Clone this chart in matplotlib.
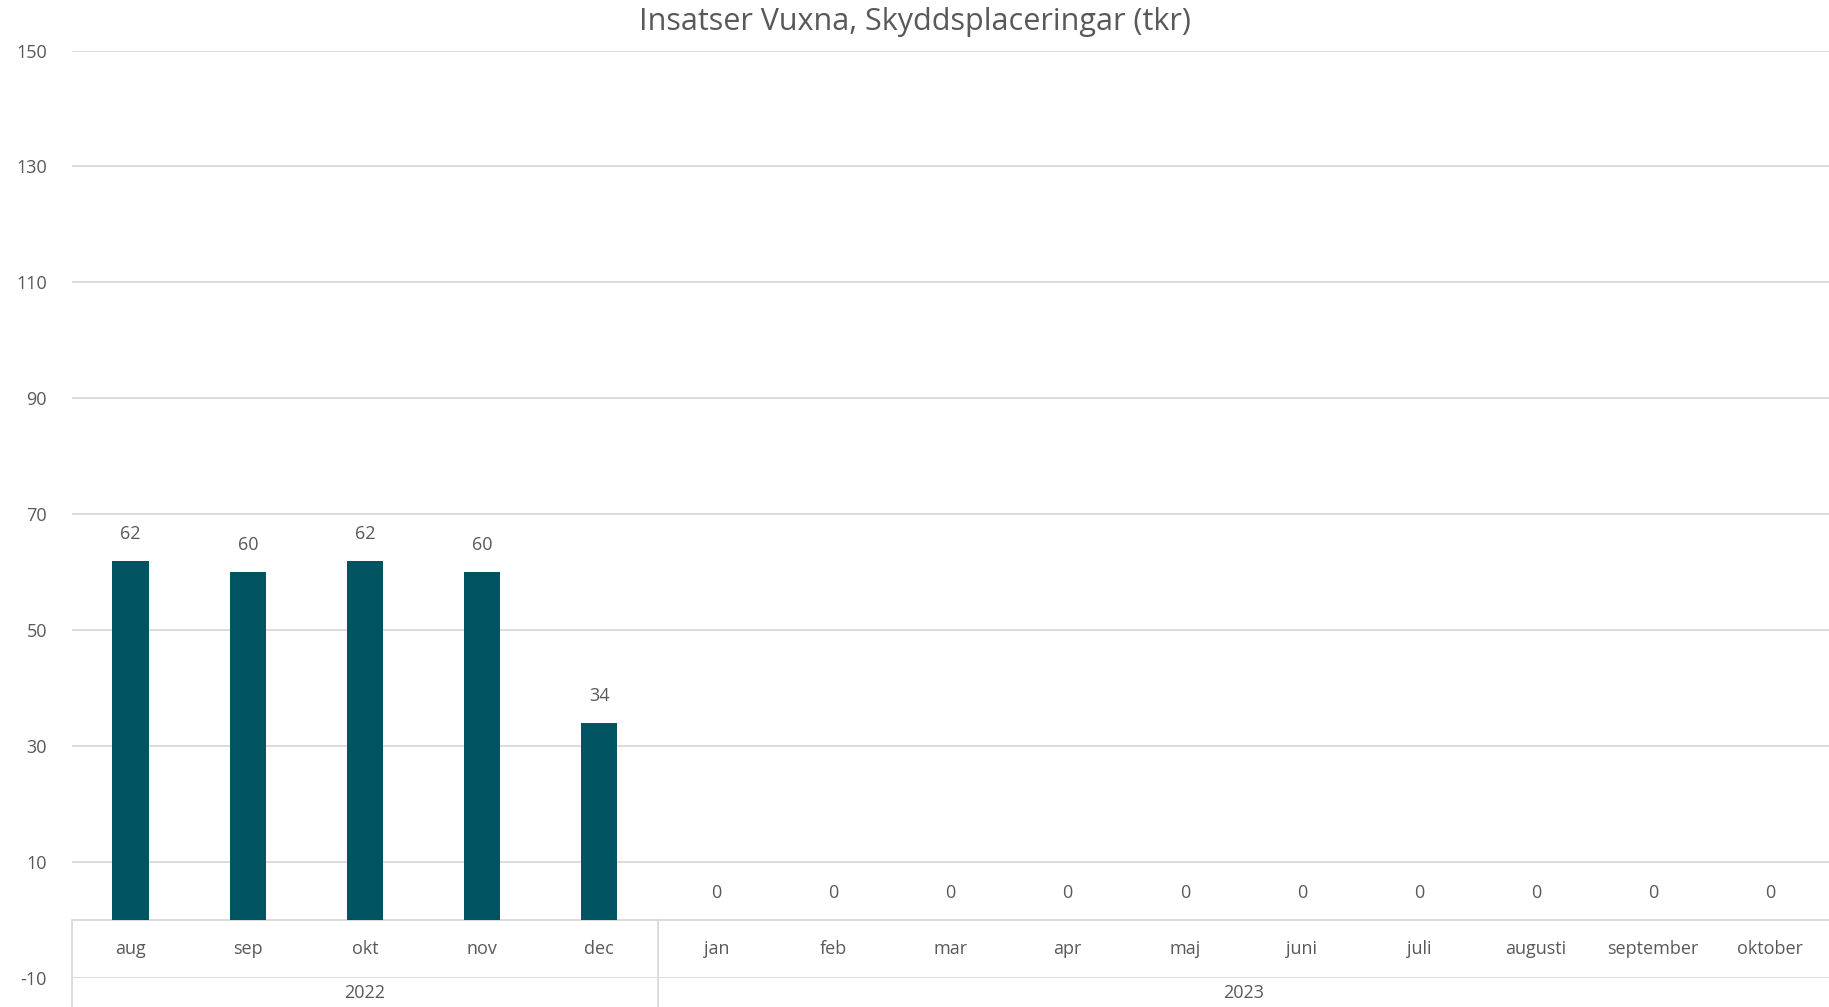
import matplotlib.pyplot as plt

months = ["aug", "sep", "okt", "nov", "dec",
          "jan", "feb", "mar", "apr", "maj", "juni", "juli",
          "augusti", "september", "oktober"]
values = [62, 60, 62, 60, 34, 0, 0, 0, 0, 0, 0, 0, 0, 0, 0]
years = ["2022", "2023"]
year_counts = [5, 10]
yticks = [-10, 10, 30, 50, 70, 90, 110, 130, 150]

bar_color = "#005462"
text_color = "#595959"
grid_color = "#d9d9d9"

plt.rcParams["font.family"] = ["Open Sans", "DejaVu Sans"]

fig = plt.figure(figsize=(18.29, 10.07), dpi=100)
ax = fig.add_axes([0.0394, 0.0288, 0.9606, 0.921])

x = list(range(len(months)))
ax.bar(x, values, width=0.31, color=bar_color, zorder=3)

for xi, v in zip(x, values):
    ax.text(xi, v + 3.1, str(v), ha="center", va="bottom", fontsize=13, color=text_color)

ax.set_xlim(-0.5, len(months) - 0.5)
ax.set_ylim(-10, 150)
ax.set_yticks(yticks)
ax.set_yticklabels([str(t) for t in yticks])
ax.tick_params(axis="y", length=0, labelsize=13, labelcolor=text_color, pad=18)
ax.set_xticks([])
ax.grid(axis="y", color=grid_color, linewidth=1.3, zorder=0)
for s in ax.spines.values():
    s.set_visible(False)

# category axis line at 0
ax.axhline(0, color=grid_color, linewidth=1.3, zorder=2)

# month labels
for xi, m in zip(x, months):
    ax.text(xi, -5, m, ha="center", va="center", fontsize=13, color=text_color)

# year groups with separators
start = 0
bounds = [-0.5]
for yr, n in zip(years, year_counts):
    mid = start + (n - 1) / 2
    ax.text(mid, -12.6, yr, ha="center", va="center", fontsize=13,
            color=text_color, clip_on=False)
    start += n
    bounds.append(start - 0.5)
for b in bounds[:-1]:
    ax.plot([b, b], [0, -16], color=grid_color, linewidth=1.3, clip_on=False, zorder=2)

fig.suptitle("Insatser Vuxna, Skyddsplaceringar (tkr)", x=0.5, y=0.993,
             va="top", fontsize=22, color=text_color)

fig.savefig("out.png", dpi=100)
